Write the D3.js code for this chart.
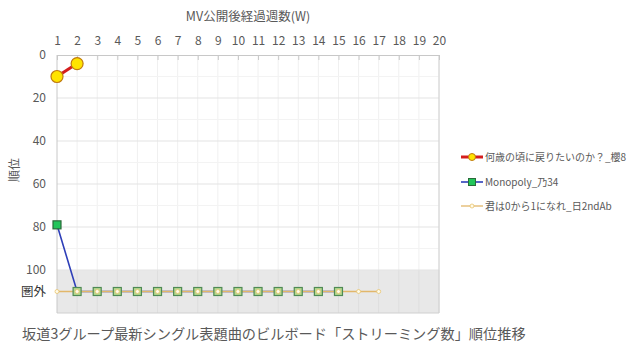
<!DOCTYPE html>
<html><head><meta charset="utf-8">
<script src="https://cdn.jsdelivr.net/npm/d3@7"></script>
<style>body{margin:0;background:#fff;}svg{display:block;font-family:"Noto Sans CJK JP","Noto Sans",sans-serif;}</style>
</head><body>
<svg id="c" width="640" height="361"></svg>
<script>
const weeks = d3.range(1, 21);
const OUT = 110; // 圏外
const series1Name = "何歳の頃に戻りたいのか？_櫻8";
const series1 = [10, 4];
const series2Name = "Monopoly_乃34";
const series2 = [79, OUT, OUT, OUT, OUT, OUT, OUT, OUT, OUT, OUT, OUT, OUT, OUT, OUT, OUT];
const series3Name = "君は0から1になれ_日2ndAb";
const series3 = [OUT, OUT, OUT, OUT, OUT, OUT, OUT, OUT, OUT, OUT, OUT, OUT, OUT, OUT, OUT, OUT, OUT];
const yTicks = [0, 20, 40, 60, 80, 100];
const yOutLabel = "圏外";
const xTitle = "MV公開後経過週数(W)";
const yTitle = "順位";
const caption = "坂道3グループ最新シングル表題曲のビルボード「ストリーミング数」順位推移";

const svg = d3.select("#c");
const L = 57, R = 439, T = 55, B = 313;
const x = d3.scaleLinear().domain([1, 20]).range([L, R]);
const y = d3.scaleLinear().domain([0, 120]).range([T, B]);
const txt = "#595959";

// gray band for 圏外
svg.append("rect").attr("x", L).attr("y", y(100)).attr("width", R - L).attr("height", y(120) - y(100)).attr("fill", "#e8e8e8");

// vertical grid
svg.append("g").selectAll("line").data(weeks.slice(1)).join("line")
  .attr("x1", d => x(d)).attr("x2", d => x(d)).attr("y1", T).attr("y2", y(100))
  .attr("stroke", "#f0f0f0").attr("stroke-width", 1);
svg.append("g").selectAll("line").data(weeks.slice(1)).join("line")
  .attr("x1", d => x(d)).attr("x2", d => x(d)).attr("y1", y(100)).attr("y2", B)
  .attr("stroke", "#dedede").attr("stroke-width", 1);
// minor horizontal grid
svg.append("g").selectAll("line").data(d3.range(10, 100, 20)).join("line")
  .attr("x1", L).attr("x2", R).attr("y1", d => y(d)).attr("y2", d => y(d))
  .attr("stroke", "#f3f3f3");
// major horizontal grid
svg.append("g").selectAll("line").data(yTicks.slice(1)).join("line")
  .attr("x1", L).attr("x2", R).attr("y1", d => y(d)).attr("y2", d => y(d))
  .attr("stroke", "#e3e3e3");

// frame right & bottom
svg.append("line").attr("x1", R).attr("x2", R).attr("y1", T).attr("y2", B).attr("stroke", "#d0d0d0");
svg.append("line").attr("x1", L).attr("x2", R).attr("y1", B).attr("y2", B).attr("stroke", "#d0d0d0");

// top axis
const xAxis = d3.axisTop(x).tickValues(weeks).tickFormat(d3.format("d")).tickSizeInner(-5).tickSizeOuter(0).tickPadding(10);
const gx = svg.append("g").attr("transform", `translate(0,${T})`).call(xAxis);
gx.select(".domain").attr("stroke", "#c8c8c8");
gx.selectAll(".tick line").attr("stroke", "#c8c8c8");
gx.selectAll("text").attr("fill", txt).attr("font-size", 12).attr("font-family", "Noto Sans CJK JP");

// left axis
const yAxis = d3.axisLeft(y).tickValues([...yTicks, OUT]).tickFormat(d => d === OUT ? yOutLabel : d).tickSize(0).tickPadding(11);
const gy = svg.append("g").attr("transform", `translate(${L},0)`).call(yAxis);
gy.select(".domain").attr("stroke", "#c8c8c8").attr("d", `M0,${T}V${B}`);
gy.selectAll("text").attr("fill", txt).attr("font-size", 12).attr("font-family", "Noto Sans CJK JP");
gy.selectAll(".tick text").filter(d => d === OUT).attr("fill", "#333").attr("font-size", 12.5);

// titles
svg.append("text").attr("x", 248).attr("y", 21).attr("text-anchor", "middle").attr("fill", txt).attr("font-size", 12.5).text(xTitle);
svg.append("text").attr("transform", "translate(19,170) rotate(-90)").attr("text-anchor", "middle").attr("fill", txt).attr("font-size", 12).text(yTitle);

const line = d3.line().x((d, i) => x(i + 1)).y(d => y(d));

// series 2
svg.append("path").datum(series2).attr("d", line).attr("fill", "none").attr("stroke", "#2e3fb8").attr("stroke-width", 1.6);
// series 3 line
svg.append("path").datum(series3).attr("d", line).attr("fill", "none").attr("stroke", "#e2b76a").attr("stroke-width", 1.3);
// series 2 markers
svg.append("g").selectAll("rect").data(series2).join("rect")
  .attr("x", (d, i) => x(i + 1) - 4).attr("y", d => y(d) - 4).attr("width", 8).attr("height", 8)
  .attr("fill", (d, i) => i === 0 ? "#22c55a" : "#b6d98f").attr("stroke", (d, i) => i === 0 ? "#2a6a3a" : "#4f8a55").attr("stroke-width", 1.2);
// series 3 markers
svg.append("g").selectAll("circle").data(series3).join("circle")
  .attr("cx", (d, i) => x(i + 1)).attr("cy", d => y(d)).attr("r", 2)
  .attr("fill", "#fffbe8").attr("stroke", "#e8c470").attr("stroke-width", 0.8);

// series 1
svg.append("path").datum(series1).attr("d", line).attr("fill", "none").attr("stroke", "#d41e1e").attr("stroke-width", 3);
svg.append("g").selectAll("circle").data(series1).join("circle")
  .attr("cx", (d, i) => x(i + 1)).attr("cy", d => y(d)).attr("r", 6)
  .attr("fill", "#ffe400").attr("stroke", "#c07a10").attr("stroke-width", 1.2);

// legend
const lg = svg.append("g");
const items = [
  {name: series1Name, y: 157, type: 1},
  {name: series2Name, y: 182, type: 2},
  {name: series3Name, y: 206, type: 3}
];
items.forEach(it => {
  const g = lg.append("g").attr("transform", `translate(0,${it.y})`);
  if (it.type === 1) {
    g.append("line").attr("x1", 461).attr("x2", 483).attr("stroke", "#d41e1e").attr("stroke-width", 3);
    g.append("circle").attr("cx", 472).attr("r", 3.5).attr("fill", "#ffe400").attr("stroke", "#c07a10");
  } else if (it.type === 2) {
    g.append("line").attr("x1", 461).attr("x2", 483).attr("stroke", "#2e3fb8").attr("stroke-width", 1.6);
    g.append("rect").attr("x", 468.5).attr("y", -3.5).attr("width", 7).attr("height", 7).attr("fill", "#22c55a").attr("stroke", "#2a6a3a");
  } else {
    g.append("line").attr("x1", 461).attr("x2", 483).attr("stroke", "#e2b76a").attr("stroke-width", 1.3);
    g.append("circle").attr("cx", 472).attr("r", 2).attr("fill", "#fffbe8").attr("stroke", "#e8c470").attr("stroke-width", 0.8);
  }
  g.append("text").attr("x", 485).attr("y", 4).attr("fill", txt).attr("font-size", 10).text(it.name);
});

// caption
svg.append("text").attr("x", 22).attr("y", 339).attr("fill", txt).attr("font-size", 14.2).text(caption);
</script>
</body></html>
